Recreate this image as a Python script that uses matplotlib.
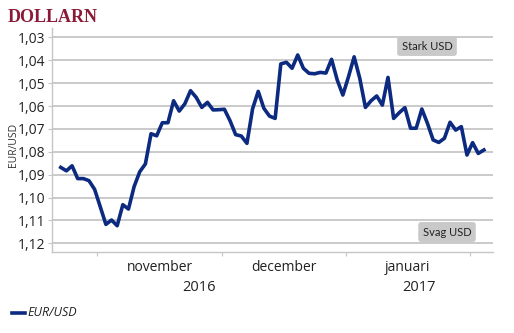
import matplotlib
matplotlib.use("Agg")
import matplotlib.pyplot as plt
from matplotlib.lines import Line2D
import numpy as np
import pandas as pd

# EUR/USD daily closes, business days 21 Oct 2016 - 3 Feb 2017
start_date = "2016-10-21"
end_date = "2017-02-03"
eur_usd = [
    1.0868, 1.0883, 1.0861, 1.0917, 1.0917, 1.0926, 1.0964,
    1.1040, 1.1117, 1.1098, 1.1123, 1.1031, 1.1050, 1.0952, 1.0887,
    1.0853, 1.0721, 1.0730, 1.0673, 1.0673, 1.0577, 1.0622, 1.0590,
    1.0533, 1.0562, 1.0606, 1.0584, 1.0617, 1.0616,
    1.0614, 1.0664, 1.0725, 1.0731, 1.0763, 1.0612, 1.0536, 1.0610,
    1.0644, 1.0654, 1.0416, 1.0409, 1.0435, 1.0377, 1.0435, 1.0457,
    1.0459, 1.0453, 1.0456, 1.0396, 1.0486, 1.0552,
    1.0472, 1.0385, 1.0479, 1.0606, 1.0577, 1.0556, 1.0596, 1.0475,
    1.0654, 1.0629, 1.0607, 1.0697, 1.0697, 1.0613, 1.0676, 1.0748,
    1.0759, 1.0741, 1.0671, 1.0705, 1.0690, 1.0814,
    1.0760, 1.0807, 1.0792,
]
month_labels = {(2016, 11): "november", (2016, 12): "december", (2017, 1): "januari"}
yticks = [1.03, 1.04, 1.05, 1.06, 1.07, 1.08, 1.09, 1.10, 1.11, 1.12]

dates = pd.bdate_range(start_date, end_date)
x = np.arange(len(dates))

navy = "#0c2a80"
grid_c = "#c6c6c6"
font = "Open Sans"
W, H = 514, 333

fig = plt.figure(figsize=(W / 100, H / 100), dpi=100)
ax = fig.add_axes([0.1012, 0.243, 0.959 - 0.1012, 0.916 - 0.243])

ax.plot(x, eur_usd, color=navy, lw=2.6, solid_joinstyle="round", zorder=3)

ax.set_ylim(1.1238, 1.0259)
ax.set_xlim(-1.55, 76.6)
ax.set_yticks(yticks)
ax.set_yticklabels([f"{v:.2f}".replace(".", ",") for v in yticks],
                   fontname=font, fontsize=10, color="#222222")
ax.yaxis.grid(True, color=grid_c, lw=1.3)
ax.set_axisbelow(True)
for s in ["top", "right"]:
    ax.spines[s].set_visible(False)
ax.spines["left"].set_color(grid_c)
ax.spines["bottom"].set_color(grid_c)
ax.spines["left"].set_linewidth(1.0)
ax.spines["bottom"].set_linewidth(1.0)
ax.tick_params(axis="y", length=3, color=grid_c, pad=2)

# month boundaries as ticks, month names and years as two label rows
periods = [(d.year, d.month) for d in dates]
bounds = [i - 0.5 for i in range(1, len(periods)) if periods[i] != periods[i - 1]]
ax.set_xticks(bounds)
ax.set_xticklabels([])
ax.tick_params(axis="x", length=3, color=grid_c, direction="out")

edges = [-0.5] + bounds + [len(periods) - 0.5]
seg_periods = [periods[int(e + 0.5)] for e in edges[:-1]]
for (lo, hi), per in zip(zip(edges[:-1], edges[1:]), seg_periods):
    if per in month_labels:
        ax.text((lo + hi) / 2, -0.07, month_labels[per], transform=ax.get_xaxis_transform(),
                ha="center", va="center", fontname=font, fontsize=10, color="#222222")
xl = ax.get_xlim()
year_bound = [b for b in bounds if periods[int(b + 0.5)][0] != periods[int(b - 0.5)][0]][0]
for yr, lo, hi in [(2016, xl[0], year_bound), (2017, year_bound, xl[1])]:
    ax.text((lo + hi) / 2, -0.16, str(yr), transform=ax.get_xaxis_transform(),
            ha="center", va="center", fontname=font, fontsize=10.5, color="#222222")

ax.set_ylabel("EUR/USD", fontname=font, fontsize=7.5, color="#333333")
ax.yaxis.set_label_coords(-0.074, 0.48)

# strong / weak dollar markers
box = dict(boxstyle="round,pad=0.4,rounding_size=0.25", fc="#c9c9c9", ec="none")
fig.text(427 / W, 1 - 46 / H, "Stark USD", ha="center", va="center",
         fontname="Lato", fontsize=8, color="#222222", bbox=box)
fig.text(447 / W, 1 - 232 / H, "Svag USD", ha="center", va="center",
         fontname="Lato", fontsize=8, color="#222222", bbox=box)

fig.text(8 / W, 1 - 17 / H, "DOLLARN", fontname="Liberation Serif", fontweight="bold",
         fontsize=13, color="#8a1a36", ha="left", va="center")

fig.add_artist(Line2D([11.5 / W, 25 / W], [1 - 312.5 / H] * 2, color=navy, lw=2.6))
fig.text(27 / W, 1 - 312 / H, "EUR/USD", fontname=font, style="italic",
         fontsize=9, color="#222222", ha="left", va="center")

fig.savefig("out.png", dpi=100)
